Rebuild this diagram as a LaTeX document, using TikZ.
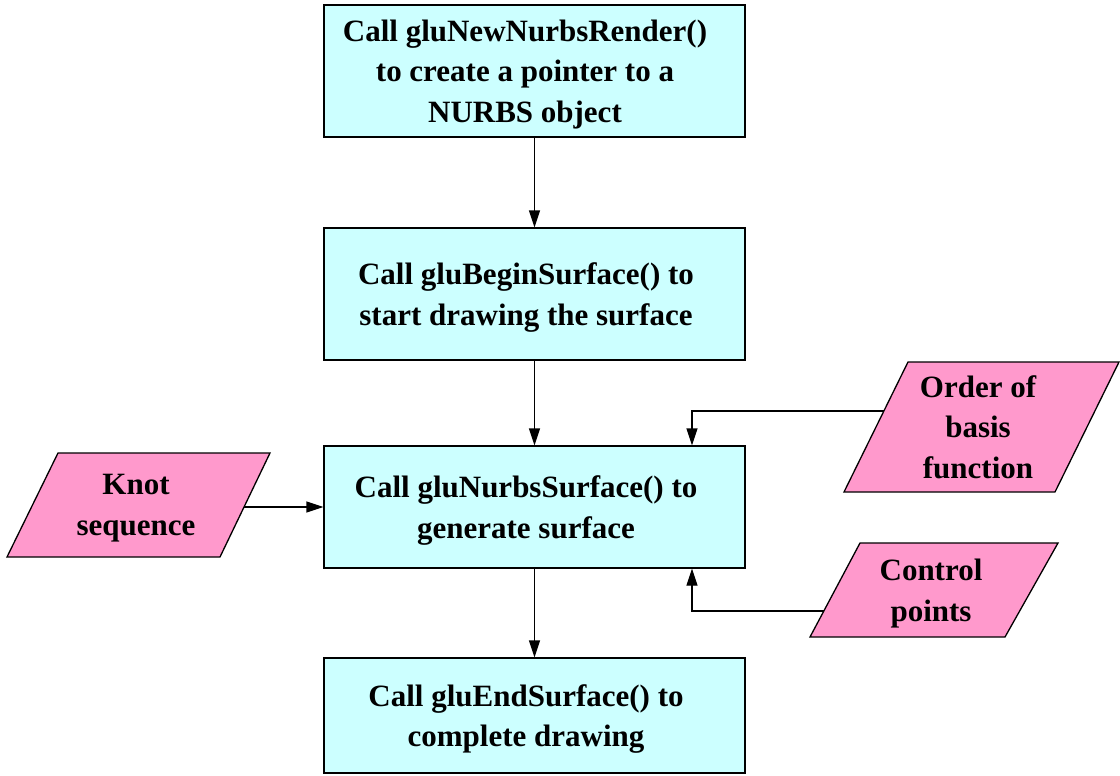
\documentclass[tikz,border=0pt]{standalone}
\usepackage{fontspec}
\setmainfont{Liberation Serif}
\usetikzlibrary{arrows.meta}
\definecolor{boxcyan}{HTML}{CCFFFF}
\definecolor{datapink}{HTML}{FF99CC}
\begin{document}
\begin{tikzpicture}[x=1pt,y=-1pt,
  stepbox/.style={draw=black,line width=1.3pt,fill=boxcyan,minimum width=421pt,inner sep=0pt},
  txt/.style={align=center,inner sep=0pt,text depth=0pt,font=\fontsize{31}{40.5}\selectfont\bfseries},
  databox/.style={draw=black,line width=1.3pt,fill=datapink,line join=miter},
  arr/.style={line width=1.3pt,-{Triangle[length=17pt,width=11pt]}}]
\useasboundingbox (0,0) rectangle (1120,776);
% process boxes
\node[stepbox,minimum height=132pt] (b1) at (534.5,71) {};
\node[txt] (b1t) at (525,71) {Call gluNewNurbsRender()\\to create a pointer to a\\NURBS object};
\node[stepbox,minimum height=132pt] (b2) at (534.5,294) {};
\node[txt] (b2t) at (526,294) {Call gluBeginSurface() to\\start drawing the surface};
\node[stepbox,minimum height=122pt] (b3) at (534.5,507) {};
\node[txt] (b3t) at (526,507) {Call gluNurbsSurface() to\\generate surface};
\node[stepbox,minimum height=115pt] (b4) at (534.5,715.5) {};
\node[txt] (b4t) at (526,715.5) {Call gluEndSurface() to\\complete drawing};
% data parallelograms
\draw[databox] (58,453) -- (270,453) -- (220,557) -- (7,557) -- cycle;
\node[txt] (knot) at (136,505) {Knot\\sequence};
\coordinate (knotR) at (244,507);
\draw[databox] (908,362) -- (1119,362) -- (1055,492) -- (844,492) -- cycle;
\node[txt] (order) at (978,427) {Order of\\basis\\function};
\coordinate (orderL) at (884,411);
\draw[databox] (860,543) -- (1058,543) -- (1005,637) -- (810,637) -- cycle;
\node[txt] (ctl) at (931,590) {Control\\points};
\coordinate (ctlL) at (824,611);
% connectors
\draw[arr] (b1) -- (b2);
\draw[arr] (b2) -- (b3);
\draw[arr] (b3) -- (b4);
\draw[arr] (knotR) -- (b3);
\draw[arr] (orderL) -| ([xshift=157.5pt]b3.north);
\draw[arr] (ctlL) -| ([xshift=157.5pt]b3.south);
\end{tikzpicture}
\end{document}
